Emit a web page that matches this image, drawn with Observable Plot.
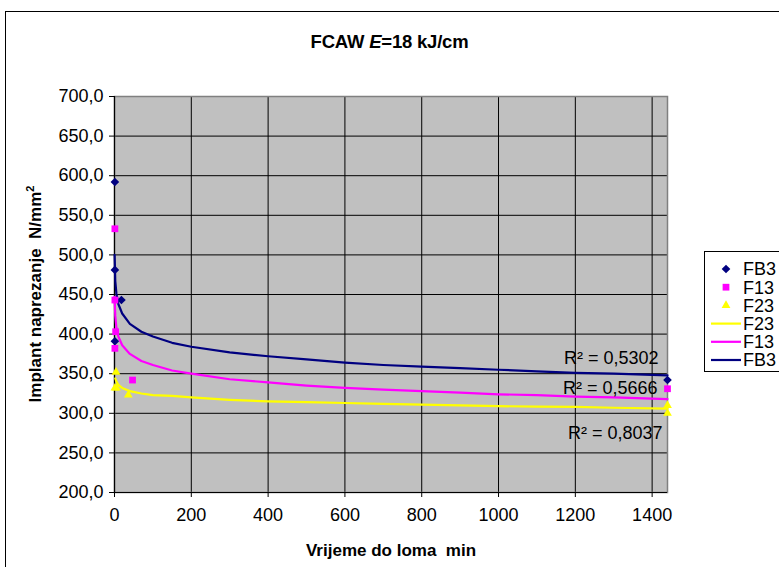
<!DOCTYPE html>
<html>
<head>
<meta charset="utf-8">
<script src="https://cdn.jsdelivr.net/npm/d3@7"></script>
<script src="https://cdn.jsdelivr.net/npm/@observablehq/plot@0.6"></script>
<style>
  body { margin: 0; background: #fff; }
  #page { position: relative; width: 779px; height: 567px; overflow: hidden; background: #fff;
          font-family: "Liberation Sans", Arial, sans-serif; color: #000; }
  #frame { position: absolute; left: 5px; top: 11px; width: 900px; height: 700px; border: 1px solid #000; }
  #title { position: absolute; left: 0; width: 779px; top: 31px; line-height: 22px; text-align: center;
           font-weight: bold; font-size: 18.5px; letter-spacing: -0.2px; }
  #xtitle { position: absolute; left: 291px; width: 200px; top: 541px; line-height: 20px; text-align: center;
            font-weight: bold; font-size: 17px; white-space: nowrap; }
  #ytitle { position: absolute; left: 33px; top: 294px; transform: translate(-50%, -50%) rotate(-90deg);
            white-space: nowrap; font-weight: bold; font-size: 17px; line-height: 20px; }
  #ytitle sup { font-size: 11px; vertical-align: 7px; }
  #chart { position: absolute; left: 0; top: 0; }
  #legend { position: absolute; left: 704px; top: 251px; width: 120px; height: 119px;
            border: 1px solid #000; background: #fff; }
</style>
</head>
<body>
<div id="page">
  <div id="frame"></div>
  <div id="title">FCAW <i>E</i>=18 kJ/cm</div>
  <div id="ytitle">Implant naprezanje&nbsp; N/mm<sup>2</sup></div>
  <div id="xtitle">Vrijeme do loma&nbsp; min</div>
  <div id="chart"></div>
  <svg id="legend"></svg>
</div>
<script>
// ---- data ----
const seriesNames = ["FB3", "F13", "F23"];
const seriesColors = ["#000080", "#FF00FF", "#FFFF00"];

// measured points (time to fracture, min; implant stress, N/mm2)
const timeFB3   = [1, 1, 1, 18, 1440];
const stressFB3 = [592, 481, 391, 443, 342];
const timeF13   = [1, 1, 3, 1, 47, 1440];
const stressF13 = [533, 443, 403, 382, 342, 331];
const timeF23   = [4, 1, 5, 36, 1440, 1440];
const stressF23 = [352, 332, 332, 323, 310, 300];

// trend lines (logarithmic trend curves)
const trendTime    = [0.3, 2, 5, 10, 20, 40, 70, 100, 150, 200, 300, 400, 500, 600, 700, 800, 900, 1000, 1100, 1200, 1300, 1440];
const trendFB3     = [500, 467, 451, 438, 426, 413, 403, 397, 389, 384, 377, 372, 368, 364, 361, 359, 357, 355, 353, 351, 350, 348];
const trendF13     = [447, 423, 408, 397, 386, 375, 366, 361, 354, 350, 343, 339, 335, 332, 330, 328, 326, 324, 323, 321, 320, 318];
const trendTimeF23 = [2, 5, 10, 20, 40, 70, 100, 150, 200, 300, 400, 500, 600, 700, 800, 900, 1000, 1100, 1200, 1300, 1440];
const trendF23     = [344, 340, 336, 332, 328, 325, 323, 322, 320, 317, 315, 314, 313, 312, 311, 310, 309, 308.5, 308, 307, 306];

const r2Values = ["0,5302", "0,5666", "0,8037"];

const xTicks = [0, 200, 400, 600, 800, 1000, 1200, 1400];
const yTicks = [200, 250, 300, 350, 400, 450, 500, 550, 600, 650, 700];

const legendItems = [
  {label: "FB3", kind: "dot", series: 0},
  {label: "F13", kind: "dot", series: 1},
  {label: "F23", kind: "dot", series: 2},
  {label: "F23", kind: "line", series: 2},
  {label: "F13", kind: "line", series: 1},
  {label: "FB3", kind: "line", series: 0}
];

// ---- build tables ----
const pts = (xs, ys) => xs.map((x, i) => ({x, y: ys[i]}));
const ptsFB3 = pts(timeFB3, stressFB3);
const ptsF13 = pts(timeF13, stressF13);
const ptsF23 = pts(timeF23, stressF23);
const lineFB3 = pts(trendTime, trendFB3);
const lineF13 = pts(trendTime, trendF13);
const lineF23 = pts(trendTimeF23, trendF23);

const fmtY = d => d.toFixed(1).replace(".", ",");
const endOf = a => [a[a.length - 1]];

const dotR = [3.9, 4.3, 4.2];

const chart = Plot.plot({
  width: 779,
  height: 567,
  marginLeft: 114,
  marginRight: 112,
  marginTop: 96,
  marginBottom: 75,
  style: {fontFamily: "'Liberation Sans', Arial, sans-serif", fontSize: "18px", background: "transparent", color: "#000"},
  x: {domain: [0, 1440]},
  y: {domain: [200, 700]},
  marks: [
    Plot.frame({fill: "#C0C0C0", stroke: null}),
    Plot.gridX(xTicks, {stroke: "#000", strokeOpacity: 1, strokeWidth: 1}),
    Plot.gridY(yTicks, {stroke: "#000", strokeOpacity: 1, strokeWidth: 1}),
    Plot.frame({stroke: "#808080", strokeWidth: 1.5}),
    Plot.ruleX([0], {stroke: "#000", strokeWidth: 1.2}),
    Plot.ruleY([200], {stroke: "#000", strokeWidth: 1.2}),
    Plot.axisY({ticks: yTicks, tickSize: 5, tickPadding: 6, tickFormat: fmtY, fontSize: 18, label: null}),
    Plot.axisX({ticks: xTicks, tickSize: 5, tickPadding: 11, tickFormat: d => String(d), fontSize: 18, label: null}),
    Plot.line(lineF23, {x: "x", y: "y", stroke: seriesColors[2], strokeWidth: 2.2}),
    Plot.line(lineF13, {x: "x", y: "y", stroke: seriesColors[1], strokeWidth: 2.2}),
    Plot.line(lineFB3, {x: "x", y: "y", stroke: seriesColors[0], strokeWidth: 2.2}),
    Plot.dot(ptsFB3, {x: "x", y: "y", symbol: "diamond2", fill: seriesColors[0], stroke: null, r: dotR[0]}),
    Plot.dot(ptsF13, {x: "x", y: "y", symbol: "square2", fill: seriesColors[1], stroke: null, r: dotR[1]}),
    Plot.dot(ptsF23, {x: "x", y: "y", symbol: "triangle2", fill: seriesColors[2], stroke: null, r: dotR[2]}),
    Plot.text(endOf(lineFB3), {x: "x", y: "y", text: () => "R² = " + r2Values[0], textAnchor: "end", dx: -9, dy: -17, fontSize: 18, fill: "#000"}),
    Plot.text(endOf(lineF13), {x: "x", y: "y", text: () => "R² = " + r2Values[1], textAnchor: "end", dx: -10, dy: -11, fontSize: 18, fill: "#000"}),
    Plot.text(endOf(lineF23), {x: "x", y: "y", text: () => "R² = " + r2Values[2], textAnchor: "end", dx: -5, dy: 25, fontSize: 18, fill: "#000"})
  ]
});
document.getElementById("chart").appendChild(chart);

// ---- legend ----
const symbols = [d3.symbolDiamond2, d3.symbolSquare2, d3.symbolTriangle2];
const leg = d3.select("#legend");
legendItems.forEach((it, i) => {
  const cy = 17 + i * 18.2;
  if (it.kind === "dot") {
    const r = dotR[it.series];
    leg.append("path")
      .attr("d", d3.symbol(symbols[it.series], Math.PI * r * r)())
      .attr("transform", `translate(21,${cy})`)
      .attr("fill", seriesColors[it.series]);
  } else {
    leg.append("line").attr("x1", 6).attr("x2", 36).attr("y1", cy).attr("y2", cy)
      .attr("stroke", seriesColors[it.series]).attr("stroke-width", 2.2);
  }
  leg.append("text").attr("x", 38).attr("y", cy).attr("dy", "0.35em")
    .attr("font-family", "'Liberation Sans', Arial, sans-serif").attr("font-size", 18)
    .text(it.label);
});
</script>
</body>
</html>
